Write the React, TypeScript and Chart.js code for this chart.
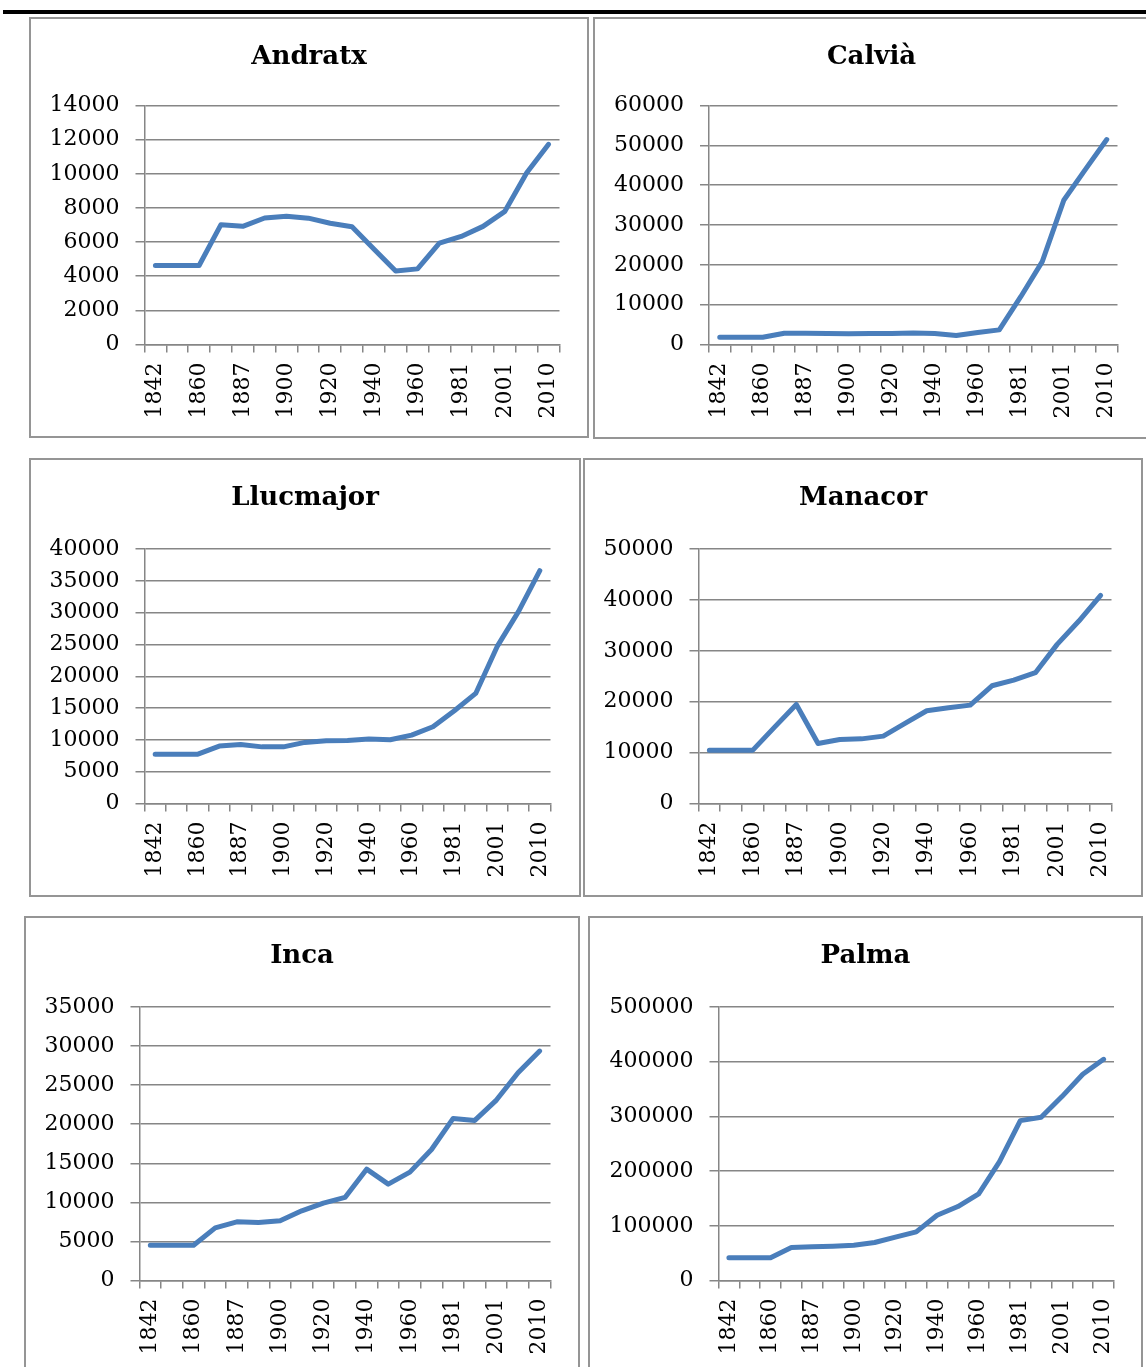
import React, { useEffect, useRef } from 'react';
import { Chart, registerables } from 'chart.js';

Chart.register(...registerables);

// ---- data ----
const years = ['1842', '1857', '1860', '1877', '1887', '1897', '1900', '1910', '1920', '1930', '1940', '1950', '1960', '1970', '1981', '1991', '2001', '2005', '2010'];

const andratx = [4630, 4630, 4630, 7020, 6920, 7410, 7510, 7400, 7100, 6900, 5600, 4310, 4430, 5940, 6330, 6920, 7800, 10060, 11725];
const calvia = [1840, 1840, 1840, 2840, 2800, 2750, 2700, 2750, 2750, 2900, 2750, 2250, 3000, 3670, 12000, 20800, 36200, 43900, 51450];
const llucmajor = [7760, 7760, 7760, 9020, 9280, 8900, 8900, 9600, 9860, 9900, 10120, 10020, 10750, 12060, 14580, 17300, 24650, 30150, 36600];
const manacor = [10480, 10480, 10480, 15000, 19460, 11800, 12580, 12700, 13240, 15730, 18220, 18800, 19330, 23130, 24250, 25690, 31260, 35850, 40900];
const inca = [4520, 4520, 4520, 6740, 7510, 7430, 7640, 8920, 9900, 10630, 14250, 12330, 13870, 16770, 20740, 20490, 23090, 26590, 29360];
const palma = [41400, 41400, 41400, 60300, 61500, 62700, 64600, 69400, 79200, 88900, 119400, 135200, 158300, 217400, 292300, 298400, 336200, 377000, 404400];

const titles = ['Andratx', 'Calvià', 'Llucmajor', 'Manacor', 'Inca', 'Palma'];
const series = [andratx, calvia, llucmajor, manacor, inca, palma];
const yMax = [14000, 60000, 40000, 50000, 35000, 500000];
const yStep = [2000, 10000, 5000, 10000, 5000, 100000];

// ---- layout (page coordinates) ----
type Rect = { l: number; t: number; r: number; b: number };
const boxes: Rect[] = [
  { l: 29, t: 17, r: 589, b: 438 },
  { l: 593, t: 17, r: 1150, b: 439 },
  { l: 29, t: 458, r: 581, b: 897 },
  { l: 583, t: 458, r: 1143, b: 897 },
  { l: 24, t: 916, r: 580, b: 1385 },
  { l: 588, t: 916, r: 1143, b: 1385 },
];
const plots: Rect[] = [
  { l: 144.5, t: 105.5, r: 559.5, b: 344.5 },
  { l: 709, t: 105.5, r: 1117.5, b: 344.5 },
  { l: 144.5, t: 549, r: 550.5, b: 803.5 },
  { l: 698.5, t: 549, r: 1111.5, b: 803.5 },
  { l: 139.5, t: 1007, r: 550.5, b: 1280.5 },
  { l: 718.5, t: 1007, r: 1114, b: 1280.5 },
];

const GRID = '#868686';
const LINE = '#4A7EBB';
const FONT = 'DejaVu Serif';
const TICK_SIZE = 22;
const TITLE_SIZE = 26;
const TITLE_LH = 1.2;
const TITLE_TOP = 25;

function Panel({ idx }: { idx: number }) {
  const ref = useRef<HTMLCanvasElement | null>(null);
  const box = boxes[idx];
  const plot = plots[idx];
  const W = box.r - box.l;
  const H = box.b - box.t;

  useEffect(() => {
    if (!ref.current) return;
    const padR = box.r - plot.r;
    const yW = plot.l - box.l;
    const xH = box.b - plot.b;
    const titleH = TITLE_SIZE * TITLE_LH;
    const titleBottom = plot.t - box.t - TITLE_TOP - titleH;
    const chart = new Chart(ref.current, {
      type: 'line',
      data: {
        labels: years,
        datasets: [
          {
            data: series[idx],
            borderColor: LINE,
            backgroundColor: LINE,
            borderWidth: 5,
            pointRadius: 0,
            pointHoverRadius: 0,
            tension: 0,
            fill: false,
            borderCapStyle: 'round',
            borderJoinStyle: 'round',
            yAxisID: 'y',
          },
        ],
      },
      options: {
        responsive: false,
        animation: false,
        events: [],
        layout: { padding: 0 },
        plugins: {
          legend: { display: false },
          tooltip: { enabled: false },
          title: {
            display: true,
            text: titles[idx],
            color: '#000',
            font: { family: FONT, size: TITLE_SIZE, weight: 'bold', lineHeight: TITLE_LH },
            padding: { top: TITLE_TOP, bottom: titleBottom },
          },
        },
        scales: {
          x: {
            type: 'category',
            offset: true,
            grid: {
              display: true,
              offset: true,
              drawOnChartArea: false,
              drawTicks: true,
              tickLength: 8,
              color: GRID,
              lineWidth: 1.5,
            },
            border: { display: true, color: GRID, width: 1.5 },
            ticks: {
              autoSkip: false,
              minRotation: 90,
              maxRotation: 90,
              padding: 10,
              color: '#000',
              font: { family: FONT, size: TICK_SIZE },
              callback: (_v: any, i: number) => (i % 2 === 0 ? years[i] : ''),
            },
            afterFit: (s: any) => {
              s.height = xH;
            },
          },
          y: {
            position: 'left',
            min: 0,
            max: yMax[idx],
            ticks: {
              stepSize: yStep[idx],
              padding: 16,
              color: '#000',
              font: { family: FONT, size: TICK_SIZE },
              callback: (v: any) => String(v),
            },
            grid: { color: GRID, lineWidth: 1.5, drawTicks: true, tickLength: 9 },
            border: { display: true, color: GRID, width: 1.5 },
            afterFit: (s: any) => {
              s.width = yW;
            },
          },
          spacer: {
            type: 'linear',
            position: 'right',
            min: 0,
            max: 1,
            grid: { display: false, drawTicks: false },
            border: { display: false },
            ticks: { display: false },
            afterFit: (s: any) => {
              s.width = padR;
            },
          },
        },
      } as any,
    });
    return () => chart.destroy();
  }, [idx]);

  return (
    <>
      <canvas
        ref={ref}
        width={W}
        height={H}
        style={{ position: 'absolute', left: box.l, top: box.t, width: W, height: H }}
      />
      <div
        style={{
          position: 'absolute',
          left: box.l,
          top: box.t,
          width: W,
          height: H,
          boxSizing: 'border-box',
          border: '2px solid #959595',
          pointerEvents: 'none',
        }}
      />
    </>
  );
}

export default function App() {
  return (
    <div
      style={{
        position: 'absolute',
        left: 0,
        top: 0,
        width: 1146,
        height: 1367,
        overflow: 'hidden',
        background: '#fff',
      }}
    >
      <div style={{ position: 'absolute', left: 3, top: 10, width: 1143, height: 4, background: '#000' }} />
      {titles.map((_, i) => (
        <Panel key={i} idx={i} />
      ))}
    </div>
  );
}
